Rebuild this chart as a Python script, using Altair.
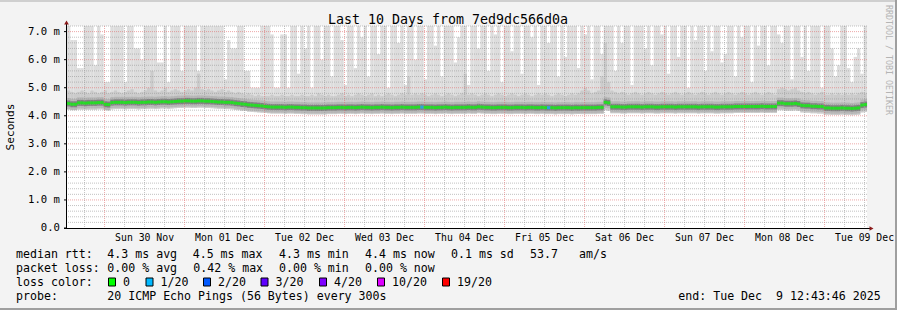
import altair as alt
import pandas as pd

MONO = "DejaVu Sans Mono"
START = pd.Timestamp("2025-11-29T12:43:46Z")
N_HOURS = 240

# max ping (top of light smoke), ms, one value per hour column
top = [
    7.2, 6.7, 6.7, 5.7, 5.7, 7.2, 7.2, 7.2, 5.8, 7.2, 6.9, 5.2,
    5.2, 7.2, 7.2, 7.2, 7.2, 5.2, 7.2, 7.2, 6.4, 6.4, 6.0, 7.2,
    7.2, 7.2, 7.2, 5.9, 5.9, 7.2, 5.2, 7.2, 7.2, 7.2, 5.6, 7.2,
    7.2, 7.2, 7.2, 5.6, 7.2, 7.2, 7.2, 7.2, 7.2, 7.2, 7.2, 5.3,
    6.7, 6.4, 6.4, 7.2, 7.2, 5.6, 5.6, 5.0, 5.0, 5.0, 7.2, 7.2,
    7.2, 6.9, 5.0, 5.0, 6.9, 6.9, 5.0, 7.2, 7.2, 5.5, 7.2, 6.4,
    7.2, 5.0, 7.2, 7.2, 6.0, 7.2, 7.2, 5.4, 7.2, 7.2, 6.7, 5.1,
    7.2, 7.2, 5.7, 7.2, 6.8, 7.2, 5.4, 7.2, 7.2, 6.2, 7.2, 7.2,
    5.0, 7.2, 7.2, 6.6, 7.2, 5.1, 7.2, 7.2, 6.0, 7.2, 7.2, 5.3,
    7.2, 7.2, 6.5, 7.2, 5.4, 7.2, 7.2, 7.2, 5.9, 6.8, 7.2, 7.2,
    5.1, 7.2, 7.2, 6.4, 7.2, 7.2, 5.6, 7.2, 6.9, 7.2, 5.2, 7.2,
    7.2, 6.3, 7.2, 7.2, 5.5, 7.2, 7.2, 6.8, 7.2, 5.1, 7.2, 7.2,
    6.6, 7.2, 7.2, 5.4, 7.2, 6.1, 7.2, 7.2, 7.2, 5.7, 7.2, 6.9,
    7.2, 5.3, 7.2, 7.2, 6.2, 7.2, 7.2, 7.2, 5.6, 7.2, 6.6, 7.2,
    7.2, 5.1, 7.2, 7.2, 7.2, 6.4, 7.2, 5.8, 7.2, 7.2, 6.9, 7.2,
    5.5, 7.2, 7.2, 6.1, 7.2, 7.2, 5.0, 7.2, 6.7, 7.2, 7.2, 5.6,
    7.2, 6.3, 7.2, 7.2, 5.9, 6.2, 7.2, 7.2, 5.4, 7.2, 6.8, 7.2,
    7.2, 5.2, 7.2, 6.5, 7.2, 7.2, 5.8, 7.2, 7.2, 6.9, 6.6, 7.2,
    7.2, 5.3, 7.2, 7.2, 6.1, 7.2, 5.6, 7.2, 7.2, 7.2, 5.0, 7.2,
    7.2, 6.4, 5.4, 5.8, 7.2, 7.2, 5.7, 5.2, 6.1, 6.4, 5.5, 7.2,
]

# top of the denser (medium grey) smoke, ms
upper = [
    4.90, 4.85, 4.80, 4.85, 4.90, 4.85, 4.80, 4.90, 4.85, 4.80, 4.85, 4.90,
    4.80, 4.85, 4.90, 4.85, 4.80, 4.85, 4.90, 4.95, 4.85, 4.80, 4.85, 4.90,
    5.00, 5.60, 4.90, 4.85, 4.90, 5.00, 4.85, 4.90, 4.95, 4.90, 4.85, 4.90,
    4.95, 4.90, 5.00, 5.50, 4.95, 4.90, 4.95, 4.90, 4.85, 4.90, 4.95, 4.85,
    4.90, 4.85, 4.80, 4.85, 4.80, 4.75, 4.80, 4.75, 4.70, 4.75, 4.70, 4.70,
    4.70, 4.75, 4.70, 4.70, 4.75, 4.70, 4.70, 4.75, 4.70, 4.70, 4.75, 4.70,
    4.70, 4.75, 4.70, 4.80, 4.75, 4.70, 4.75, 4.70, 4.70, 4.75, 4.80, 4.70,
    4.75, 4.70, 4.75, 4.80, 4.75, 4.70, 4.75, 4.80, 4.70, 4.75, 4.70, 4.75,
    4.80, 4.75, 4.70, 4.75, 4.80, 4.75, 5.40, 4.75, 4.80, 4.75, 4.80, 4.75,
    4.70, 4.75, 4.80, 4.75, 4.70, 4.75, 4.80, 4.75, 4.70, 4.75, 4.80, 5.50,
    4.75, 4.80, 4.75, 4.70, 4.75, 4.80, 4.75, 4.70, 4.75, 4.80, 4.75, 4.70,
    4.75, 4.80, 4.75, 4.70, 4.75, 4.80, 4.75, 4.70, 4.75, 4.80, 4.75, 4.80,
    4.75, 4.70, 4.75, 4.80, 4.75, 4.70, 4.75, 4.80, 4.75, 4.80, 4.90, 5.00,
    4.90, 4.80, 4.85, 4.90, 5.40, 6.60, 5.20, 4.90, 4.85, 4.80, 4.85, 4.80,
    4.75, 4.80, 4.85, 4.80, 4.75, 4.80, 4.85, 4.80, 4.75, 4.80, 4.85, 4.80,
    4.75, 4.80, 4.85, 4.80, 4.75, 4.80, 4.85, 4.80, 4.75, 4.80, 4.85, 4.80,
    4.75, 4.80, 4.85, 4.80, 4.75, 4.80, 4.85, 4.80, 4.75, 4.80, 4.85, 4.80,
    4.75, 4.80, 4.85, 4.80, 4.75, 4.80, 4.85, 4.80, 4.75, 4.95, 5.00, 4.95,
    4.90, 4.95, 5.00, 4.90, 4.85, 4.80, 4.85, 4.80, 4.75, 4.80, 4.85, 4.75,
    4.75, 4.80, 4.75, 4.80, 4.75, 4.80, 4.75, 4.80, 4.75, 4.80, 4.85, 4.80,
]

# min ping (bottom of smoke), ms
low = [
    4.22, 4.20, 4.20, 4.22, 4.22, 4.22, 4.22, 4.22, 4.22, 4.23, 4.23, 4.20,
    4.19, 4.23, 4.24, 4.24, 4.24, 4.23, 4.24, 4.24, 4.24, 4.23, 4.24, 4.24,
    4.25, 4.25, 4.24, 4.25, 4.26, 4.26, 4.25, 4.26, 4.27, 4.28, 4.28, 4.29,
    4.29, 4.28, 4.28, 4.29, 4.29, 4.28, 4.28, 4.27, 4.26, 4.25, 4.25, 4.24,
    4.24, 4.23, 4.21, 4.20, 4.18, 4.17, 4.15, 4.14, 4.13, 4.12, 4.11, 4.10,
    4.09, 4.08, 4.08, 4.08, 4.08, 4.07, 4.08, 4.08, 4.07, 4.07, 4.06, 4.06,
    4.05, 4.05, 4.05, 4.05, 4.05, 4.05, 4.06, 4.06, 4.06, 4.07, 4.07, 4.06,
    4.07, 4.07, 4.06, 4.07, 4.08, 4.07, 4.07, 4.06, 4.07, 4.07, 4.08, 4.07,
    4.07, 4.06, 4.07, 4.07, 4.08, 4.07, 4.07, 4.07, 4.07, 4.08, 4.08, 4.07,
    4.07, 4.07, 4.06, 4.07, 4.07, 4.08, 4.07, 4.06, 4.07, 4.07, 4.07, 4.07,
    4.08, 4.07, 4.07, 4.09, 4.08, 4.07, 4.07, 4.06, 4.06, 4.07, 4.07, 4.07,
    4.06, 4.06, 4.07, 4.07, 4.07, 4.06, 4.07, 4.07, 4.06, 4.06, 4.07, 4.06,
    4.06, 4.06, 4.05, 4.06, 4.06, 4.06, 4.06, 4.05, 4.06, 4.06, 4.06, 4.06,
    4.06, 4.06, 4.06, 4.07, 4.07, 4.20, 4.18, 4.09, 4.09, 4.09, 4.08, 4.08,
    4.09, 4.09, 4.09, 4.09, 4.08, 4.09, 4.09, 4.09, 4.08, 4.08, 4.09, 4.09,
    4.09, 4.09, 4.08, 4.09, 4.09, 4.09, 4.09, 4.09, 4.09, 4.08, 4.09, 4.09,
    4.09, 4.09, 4.08, 4.08, 4.09, 4.09, 4.09, 4.09, 4.10, 4.10, 4.10, 4.10,
    4.10, 4.10, 4.10, 4.10, 4.11, 4.10, 4.10, 4.10, 4.10, 4.20, 4.20, 4.18,
    4.18, 4.18, 4.19, 4.17, 4.12, 4.11, 4.11, 4.09, 4.09, 4.08, 4.08, 4.04,
    4.04, 4.03, 4.03, 4.03, 4.04, 4.03, 4.03, 4.02, 4.03, 4.04, 4.12, 4.14,
]

# median rtt, ms
median = [
    4.44, 4.41, 4.41, 4.46, 4.46, 4.45, 4.46, 4.46, 4.46, 4.47, 4.47, 4.41,
    4.40, 4.47, 4.48, 4.48, 4.48, 4.47, 4.48, 4.48, 4.48, 4.47, 4.48, 4.48,
    4.49, 4.49, 4.48, 4.49, 4.50, 4.50, 4.49, 4.50, 4.51, 4.52, 4.52, 4.53,
    4.53, 4.52, 4.52, 4.53, 4.53, 4.52, 4.52, 4.51, 4.50, 4.49, 4.49, 4.48,
    4.48, 4.47, 4.45, 4.44, 4.42, 4.41, 4.39, 4.38, 4.37, 4.36, 4.35, 4.33,
    4.32, 4.31, 4.31, 4.31, 4.31, 4.30, 4.31, 4.31, 4.30, 4.30, 4.29, 4.29,
    4.28, 4.28, 4.28, 4.28, 4.28, 4.28, 4.29, 4.29, 4.29, 4.30, 4.30, 4.29,
    4.30, 4.30, 4.29, 4.30, 4.31, 4.30, 4.30, 4.29, 4.30, 4.30, 4.31, 4.30,
    4.30, 4.29, 4.30, 4.30, 4.31, 4.30, 4.30, 4.30, 4.30, 4.31, 4.31, 4.30,
    4.30, 4.30, 4.29, 4.30, 4.30, 4.31, 4.30, 4.29, 4.30, 4.30, 4.30, 4.30,
    4.31, 4.30, 4.30, 4.32, 4.31, 4.30, 4.30, 4.29, 4.29, 4.30, 4.30, 4.30,
    4.29, 4.29, 4.30, 4.30, 4.30, 4.29, 4.30, 4.30, 4.29, 4.29, 4.30, 4.29,
    4.29, 4.29, 4.28, 4.29, 4.29, 4.29, 4.29, 4.28, 4.29, 4.29, 4.29, 4.29,
    4.29, 4.29, 4.29, 4.30, 4.30, 4.48, 4.46, 4.32, 4.32, 4.32, 4.31, 4.31,
    4.32, 4.32, 4.32, 4.32, 4.31, 4.32, 4.32, 4.32, 4.31, 4.31, 4.32, 4.32,
    4.32, 4.32, 4.31, 4.32, 4.32, 4.32, 4.32, 4.32, 4.32, 4.31, 4.32, 4.32,
    4.32, 4.32, 4.31, 4.31, 4.32, 4.32, 4.32, 4.32, 4.33, 4.33, 4.33, 4.33,
    4.33, 4.33, 4.33, 4.33, 4.34, 4.33, 4.33, 4.33, 4.33, 4.45, 4.45, 4.43,
    4.43, 4.43, 4.44, 4.42, 4.37, 4.36, 4.36, 4.34, 4.34, 4.33, 4.33, 4.28,
    4.28, 4.27, 4.27, 4.27, 4.28, 4.27, 4.27, 4.26, 4.27, 4.28, 4.38, 4.40,
]

# hour columns whose loss was 1/20 (drawn in the 1/20 colour)
loss_1_of_20 = [106, 144]

y_major = [1, 2, 3, 4, 5, 6, 7]
y_minor = [round(0.2 * k, 1) for k in range(1, 37) if k % 5 != 0]
y_labels = [0, 1, 2, 3, 4, 5, 6, 7]
y_label_text = ["0.0\u00a0\u00a0", "1.0 m", "2.0 m", "3.0 m", "4.0 m", "5.0 m", "6.0 m", "7.0 m"]
x_label_text = ["Sun 30 Nov", "Mon 01 Dec", "Tue 02 Dec", "Wed 03 Dec", "Thu 04 Dec",
                "Fri 05 Dec", "Sat 06 Dec", "Sun 07 Dec", "Mon 08 Dec", "Tue 09 Dec"]

legend_colors = ["#00ff00", "#00b8ff", "#0059ff", "#5e00ff", "#7e00ff", "#dd00ff", "#ff0000"]
legend_names = ["0", "1/20", "2/20", "3/20", "4/20", "10/20", "19/20"]
legend_box_x = [108.5, 146.0, 203.5, 261.0, 319.5, 377.5, 442.5]


def iso(ts):
    return ts.strftime("%Y-%m-%dT%H:%M:%SZ")


END = START + pd.Timedelta(hours=N_HOURS)
df = pd.DataFrame({
    "t0": [iso(START + pd.Timedelta(hours=h)) for h in range(N_HOURS)],
    "t1": [iso(START + pd.Timedelta(hours=h + 1)) for h in range(N_HOURS)],
    "tc": [iso(START + pd.Timedelta(hours=h, minutes=30)) for h in range(N_HOURS)],
    "top": top,
    "upper": upper,
    "low": low,
    "median": median,
    "color": ["#00b8ff" if h in loss_1_of_20 else "#00ff00" for h in range(N_HOURS)],
})

midnights = [iso(pd.Timestamp("2025-11-30T00:00:00Z") + pd.Timedelta(days=d)) for d in range(10)]
noons = [iso(pd.Timestamp("2025-11-30T12:00:00Z") + pd.Timedelta(days=d)) for d in range(10)]
six_hours = []
t = pd.Timestamp("2025-11-29T18:00:00Z")
while t < END:
    if t.hour != 0:
        six_hours.append(iso(t))
    t += pd.Timedelta(hours=6)

xs = alt.Scale(type="utc", domain=[iso(START), iso(END)])
ys = alt.Scale(domain=[0, 7.2], nice=False, zero=True)

base = alt.Chart(df)

smoke_light = base.mark_rect(color="#dddddd").encode(
    x=alt.X("t0:T", scale=xs, axis=None), x2="t1:T",
    y=alt.Y("low:Q", scale=ys, axis=None), y2="top:Q")
smoke_mid = base.mark_rect(color="#cbcbcb").encode(
    x=alt.X("t0:T", scale=xs, axis=None), x2="t1:T",
    y=alt.Y("low:Q", scale=ys, axis=None), y2="upper:Q")
smoke_inner = base.mark_tick(orient="horizontal", thickness=11, size=3.4, color="#adadad").encode(
    x=alt.X("tc:T", scale=xs, axis=None), y=alt.Y("median:Q", scale=ys, axis=None))
smoke_core = base.mark_tick(orient="horizontal", thickness=6, size=3.4, color="#6a6a6a").encode(
    x=alt.X("tc:T", scale=xs, axis=None), y=alt.Y("median:Q", scale=ys, axis=None))

grid_y_minor = alt.Chart(pd.DataFrame({"v": y_minor})).mark_rule(
    color="#9a9a9a", strokeDash=[1, 1], strokeWidth=1, opacity=0.6).encode(
    y=alt.Y("v:Q", scale=ys, axis=None))
grid_x_minor = alt.Chart(pd.DataFrame({"t": six_hours})).mark_rule(
    color="#9a9a9a", strokeDash=[1, 1], strokeWidth=1, opacity=0.6).encode(
    x=alt.X("t:T", scale=xs, axis=None))
grid_y_major = alt.Chart(pd.DataFrame({"v": y_major})).mark_rule(
    color="#e07070", strokeDash=[1, 1], strokeWidth=1, opacity=0.6).encode(
    y=alt.Y("v:Q", scale=ys, axis=None))
grid_x_major = alt.Chart(pd.DataFrame({"t": midnights})).mark_rule(
    color="#e07070", strokeDash=[1, 1], strokeWidth=1, opacity=0.6).encode(
    x=alt.X("t:T", scale=xs, axis=None))

median_line = base.mark_tick(orient="horizontal", thickness=3, size=3.4).encode(
    x=alt.X("tc:T", scale=xs, axis=None),
    y=alt.Y("median:Q", scale=ys, axis=None),
    color=alt.Color("color:N", scale=None))

# tick labels, placed through the scales
y_lab = alt.Chart(pd.DataFrame({"v": y_labels, "s": y_label_text})).mark_text(
    font=MONO, fontSize=10.6, align="right", baseline="middle", color="#000000").encode(
    y=alt.Y("v:Q", scale=ys, axis=None), x=alt.value(-7), text="s:N")
y_tck = alt.Chart(pd.DataFrame({"v": y_labels})).mark_rule(color="#000000", strokeWidth=1).encode(
    y=alt.Y("v:Q", scale=ys, axis=None), x=alt.value(-3), x2=alt.value(0))
x_lab = alt.Chart(pd.DataFrame({"t": noons, "s": x_label_text})).mark_text(
    font=MONO, fontSize=9.8, align="center", baseline="alphabetic", color="#000000").encode(
    x=alt.X("t:T", scale=xs, axis=None), y=alt.value(214.7), text="s:N")

one = pd.DataFrame({"k": [0]})
OX, OY = 67, 26


def txt(s, x, y, size=11.6, align="left", color="#000000", angle=0, baseline="alphabetic"):
    return alt.Chart(one).mark_text(
        text=s, align=align, baseline=baseline, font=MONO, fontSize=size,
        color=color, angle=angle).encode(x=alt.value(x - OX), y=alt.value(y - OY))


axis_lines = [
    alt.Chart(one).mark_rule(color="#000000", strokeWidth=1).encode(
        x=alt.value(-0.5), y=alt.value(-3), y2=alt.value(202)),
    alt.Chart(one).mark_rule(color="#000000", strokeWidth=1).encode(
        x=alt.value(-3), x2=alt.value(803), y=alt.value(202.5)),
    alt.Chart(one).mark_point(shape="triangle-up", filled=True, size=22, color="#8b1a1a", opacity=1).encode(
        x=alt.value(-0.5), y=alt.value(-3.5)),
    alt.Chart(one).mark_point(shape="triangle-right", filled=True, size=22, color="#8b1a1a", opacity=1).encode(
        x=alt.value(804.5), y=alt.value(202.5)),
]

texts = [
    txt("Last 10 Days from 7ed9dc566d0a", 448, 24, size=13.3, align="center"),
    txt("Seconds", 11, 127, size=11.2, align="center", angle=270, baseline="middle"),
    txt("RRDTOOL / TOBI OETIKER", 887.5, 60, size=8.3, align="center", angle=90,
        baseline="middle", color="#b4b4b4"),
    txt("median rtt:", 16, 258.3), txt("4.3 ms avg", 107.3, 258.3), txt("4.5 ms max", 192.7, 258.3),
    txt("4.3 ms min", 279, 258.3), txt("4.4 ms now", 365, 258.3), txt("0.1 ms sd", 451, 258.3),
    txt("53.7", 530, 258.3), txt("am/s", 579, 258.3),
    txt("packet loss:", 16, 272.3), txt("0.00 % avg", 107.3, 272.3), txt("0.42 % max", 193.3, 272.3),
    txt("0.00 % min", 279, 272.3), txt("0.00 % now", 365, 272.3),
    txt("loss color:", 16, 286.3),
    txt("probe:", 16, 300.3), txt("20 ICMP Echo Pings (56 Bytes) every 300s", 107.3, 300.3),
    txt("end: Tue Dec", 678.3, 300.3), txt("9 12:43:46 2025", 776, 300.3),
]
boxes = []
for c, name, bx in zip(legend_colors, legend_names, legend_box_x):
    boxes.append(alt.Chart(one).mark_rect(color=c, stroke="#000000", strokeWidth=1).encode(
        x=alt.value(bx - OX), x2=alt.value(bx + 7 - OX), y=alt.value(278 - OY), y2=alt.value(286 - OY)))
    boxes.append(txt(name, bx + 14.5, 286.3))

frame = [
    alt.Chart(one).mark_rule(color="#cfcfcf", strokeWidth=2).encode(
        x=alt.value(-OX), x2=alt.value(897 - OX), y=alt.value(1 - OY)),
    alt.Chart(one).mark_rule(color="#9f9f9f", strokeWidth=2).encode(
        x=alt.value(-OX), x2=alt.value(897 - OX), y=alt.value(309 - OY)),
    alt.Chart(one).mark_rule(color="#9f9f9f", strokeWidth=2).encode(
        x=alt.value(896 - OX), y=alt.value(-OY), y2=alt.value(310 - OY)),
]

chart = alt.layer(
    smoke_light, smoke_mid, smoke_inner, smoke_core,
    grid_y_minor, grid_x_minor, grid_y_major, grid_x_major,
    median_line, y_lab, y_tck, x_lab, *axis_lines, *texts, *boxes, *frame,
).properties(
    width=800, height=202,
    padding={"left": OX, "top": OY, "right": 30, "bottom": 82},
    autosize=alt.AutoSizeParams(type="none"),
    background="#f3f3f3",
).configure_view(fill="#ffffff", stroke=None)

chart.save("out.html", embed_options={"renderer": "svg", "actions": False})
